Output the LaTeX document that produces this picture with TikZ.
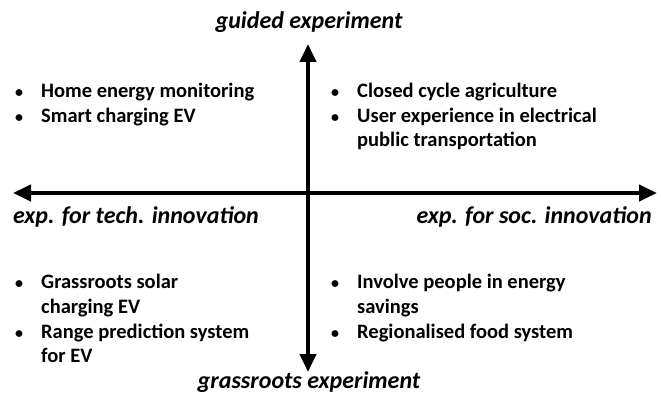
\documentclass[tikz,border=0pt]{standalone}
\usepackage{fontspec}
\setmainfont{Carlito}
\usetikzlibrary{arrows.meta}
\tikzset{
	axis/.style={line width=4pt,-{Triangle[length=18pt,width=16pt]}},
	axislabel/.style={font=\fontsize{24}{28}\selectfont\bfseries\itshape,inner sep=0pt},
	itemlist/.style={font=\fontsize{20.5}{24.5}\selectfont\bfseries,inner sep=0pt,anchor=base west}
}
\newcommand{\bulletlist}[1]{\begin{tabular}[t]{@{}p{28pt}@{}l@{}}#1\end{tabular}}
\newcommand{\bul}{\hspace{2pt}{\fontsize{16}{16}\selectfont\textbullet}}
\begin{document}
\begin{tikzpicture}[x=1pt,y=-1pt]
				\useasboundingbox (0,0) rectangle (661,395);
				\coordinate (west) at (13,193);
				\coordinate (east) at (657,193);
				\coordinate (north) at (308,44);
				\coordinate (south) at (308,372);
				\coordinate (origin) at (308,193);
				\draw[axis] (origin) -- (west);
				\draw[axis] (origin) -- (east);
				\draw[axis] (origin) -- (north);
				\draw[axis] (origin) -- (south);
				\node[axislabel,anchor=base] (guided) at (309,29) {guided experiment};
				\node[axislabel,anchor=base] (grass) at (309,388) {grassroots experiment};
				\node[axislabel,anchor=base west] (tech) at (13,224) {exp. for tech. innovation};
				\node[axislabel,anchor=base east] (soc) at (652,224) {exp. for soc. innovation};
				\node[itemlist] (topleft) at (13,98) {\bulletlist{\bul & Home energy monitoring\\ \bul & Smart charging EV}};
				\node[itemlist] (topright) at (329,98) {\bulletlist{\bul & Closed cycle agriculture\\ \bul & User experience in electrical\\ & public transportation}};
				\node[itemlist] (bottomleft) at (13,289) {\bulletlist{\bul & Grassroots solar\\ & charging EV\\ \bul & Range prediction system\\ & for EV}};
				\node[itemlist] (bottomright) at (329,289) {\bulletlist{\bul & Involve people in energy\\ & savings\\ \bul & Regionalised food system}};
				\end{tikzpicture}
\end{document}
